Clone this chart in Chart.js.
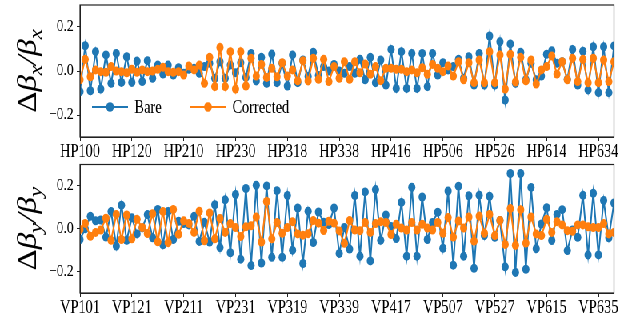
<!DOCTYPE html>
<html><head><meta charset="utf-8">
<script src="https://cdn.jsdelivr.net/npm/chart.js@4.4.1/dist/chart.umd.min.js"></script>
<style>
html,body{margin:0;padding:0;background:#fff;overflow:hidden;width:624px;height:320px;}
#wrap{width:780px;height:320px;transform:scaleX(0.8);transform-origin:0 0;}
.box{position:relative;width:780px;height:160px;}
</style></head><body>
<div id="wrap"><div class="box"><canvas id="c1"></canvas></div><div class="box"><canvas id="c2"></canvas></div></div>
<script>
const hpTickLabels = ['HP100','HP120','HP210','HP230','HP318','HP338','HP416','HP506','HP526','HP614','HP634'];
const vpTickLabels = ['VP101','VP121','VP211','VP231','VP319','VP339','VP417','VP507','VP527','VP615','VP635'];
const yTickValues = [-0.2, 0.0, 0.2];

const bareX = [-0.094,0.115,-0.09,0.088,-0.082,0.073,-0.056,0.08,-0.052,0.065,
 -0.052,0.045,-0.048,0.047,-0.033,0.027,-0.014,0.027,-0.018,0.015,
 -0.01,0.008,0.012,-0.01,0.02,0.035,-0.033,0.042,-0.033,0.027,
 -0.008,0.038,-0.029,0.08,-0.045,0.062,-0.056,0.077,-0.053,0.035,
 -0.068,0.073,-0.053,0.05,-0.025,0.085,-0.02,0.02,0.0,0.03,
 0.0,-0.01,0.02,-0.01,0.053,-0.04,0.062,-0.053,0.05,-0.064,
 0.098,-0.079,0.088,-0.079,0.08,-0.079,0.08,-0.071,0.08,-0.018,
 0.038,0.005,0.02,0.053,-0.033,0.065,-0.064,0.08,-0.064,0.159,
 -0.064,0.133,-0.132,0.123,-0.056,0.085,-0.04,0.035,-0.04,-0.023,
 0.076,0.092,0.035,0.042,-0.038,0.098,-0.064,0.09,-0.086,0.11,
 -0.098,0.11,-0.098,0.114];
const corrX = [-0.04,0.053,-0.026,0.005,-0.003,-0.006,0.02,0.0,-0.003,-0.008,
 0.008,-0.006,0.005,-0.003,0.0,0.008,0.017,-0.003,-0.006,-0.003,
 -0.018,0.023,0.005,0.027,-0.056,0.062,-0.071,0.107,-0.071,0.088,
 -0.082,0.088,-0.068,0.058,-0.023,0.03,-0.029,0.012,-0.026,0.038,
 -0.023,0.005,-0.045,0.047,-0.045,0.058,-0.038,0.053,-0.048,0.02,
 -0.033,0.042,-0.038,0.042,-0.008,0.032,-0.015,0.02,-0.044,0.012,
 0.012,0.008,0.008,-0.003,0.005,-0.008,0.015,-0.015,0.03,0.012,
 -0.003,0.023,-0.023,0.042,-0.04,0.038,-0.053,0.05,-0.053,0.088,
 -0.053,0.073,-0.082,0.076,-0.05,0.062,-0.045,0.05,-0.059,0.005,
 0.02,0.068,-0.014,0.042,-0.04,0.058,-0.048,0.053,-0.053,0.058,
 -0.053,0.05,-0.048,0.042];
const bareY = [-0.05,0.0,0.058,0.037,0.041,-0.039,0.08,-0.081,0.11,-0.054,
 0.051,-0.024,0.004,0.066,-0.042,0.09,-0.075,0.081,-0.05,0.035,
 0.024,0.018,0.058,-0.059,0.03,-0.062,0.112,-0.088,0.135,-0.112,
 0.16,-0.142,0.188,-0.172,0.203,-0.16,0.2,-0.133,0.178,-0.133,
 0.155,-0.1,0.097,-0.162,0.082,-0.064,0.078,0.03,0.02,0.097,
 -0.115,0.006,-0.095,0.155,-0.128,0.172,-0.15,0.183,-0.054,0.064,
 0.01,-0.046,0.123,-0.128,0.194,-0.128,0.148,-0.05,0.029,0.077,
 -0.091,0.176,-0.17,0.199,-0.128,0.154,-0.185,0.157,-0.032,0.152,
 -0.04,0.038,-0.178,0.258,-0.204,0.258,-0.189,0.193,-0.093,0.022,
 0.098,-0.055,0.067,0.089,-0.102,-0.006,-0.04,0.156,-0.122,0.166,
 -0.122,0.132,-0.042,0.12];
const corrY = [-0.003,0.025,-0.035,-0.017,-0.006,0.049,-0.054,0.067,-0.05,0.064,
 -0.047,0.044,0.006,-0.022,0.07,-0.061,0.08,-0.065,0.09,-0.026,
 0.037,0.025,-0.017,0.082,-0.056,0.074,-0.047,0.048,-0.017,0.024,
 0.006,-0.036,0.009,0.014,0.055,-0.062,0.127,-0.047,0.029,-0.021,
 0.006,0.033,-0.024,-0.03,-0.023,0.038,0.026,-0.008,0.035,0.026,
 -0.01,-0.068,0.038,-0.006,-0.009,0.029,-0.017,0.024,0.033,0.029,
 -0.027,0.021,0.003,-0.006,0.029,-0.006,0.021,0.003,-0.006,0.029,
 -0.021,0.052,-0.039,0.036,0.003,0.055,-0.058,0.059,-0.021,0.067,
 -0.032,0.039,-0.073,0.094,-0.077,0.089,-0.067,0.055,-0.024,-0.032,
 0.044,-0.017,0.033,0.018,-0.009,-0.012,0.018,0.018,0.009,0.006,
 0.006,0.024,-0.024,-0.017];

const BLUE = '#1f77b4', ORANGE = '#ff7f0e';
const SERIF = '"Liberation Serif", "Times New Roman", serif';
Chart.defaults.font.family = SERIF;
Chart.defaults.color = '#000';

const toPts = arr => arr.map((v, i) => ({x: i, y: v}));

const frame = {
  id: 'frame',
  afterDraw(chart) {
    const {ctx, chartArea: a} = chart;
    ctx.save();
    ctx.strokeStyle = '#222';
    ctx.lineWidth = 1.2;
    ctx.strokeRect(a.left, a.top, a.right - a.left, a.bottom - a.top);
    ctx.restore();
  }
};

const axisTitle = {
  id: 'axisTitle',
  afterDraw(chart, args, o) {
    const {ctx, chartArea: a} = chart;
    const F = o.size;
    const parts = [
      {t: 'Δ', f: `${F}px ${SERIF}`, dy: 0},
      {t: 'β', f: `italic ${F}px ${SERIF}`, dy: 0},
      {t: o.sub, f: `italic ${Math.round(F * 0.7)}px ${SERIF}`, dy: F * 0.2},
      {t: '/', f: `italic ${F}px ${SERIF}`, dy: 0},
      {t: 'β', f: `italic ${F}px ${SERIF}`, dy: 0},
      {t: o.sub, f: `italic ${Math.round(F * 0.7)}px ${SERIF}`, dy: F * 0.2}
    ];
    ctx.save();
    let total = 0;
    parts.forEach(p => { ctx.font = p.f; p.w = ctx.measureText(p.t).width; total += p.w; });
    ctx.translate(o.x, (a.top + a.bottom) / 2);
    ctx.rotate(-Math.PI / 2);
    ctx.fillStyle = '#000';
    ctx.textBaseline = 'alphabetic';
    let x = -total / 2;
    parts.forEach(p => { ctx.font = p.f; ctx.fillText(p.t, x, F * 0.28 + p.dy); x += p.w; });
    ctx.restore();
  }
};

const inLegend = {
  id: 'inLegend',
  afterDraw(chart, args, o) {
    if (!o.items) return;
    const {ctx, chartArea: a} = chart;
    const y = a.top + o.dy;
    ctx.save();
    o.items.forEach(it => {
      const ds = chart.data.datasets[it.ds];
      const x0 = a.left + it.x;
      ctx.strokeStyle = ds.borderColor;
      ctx.lineWidth = 2.2;
      ctx.beginPath(); ctx.moveTo(x0, y); ctx.lineTo(x0 + 45, y); ctx.stroke();
      ctx.fillStyle = ds.borderColor;
      ctx.beginPath(); ctx.arc(x0 + 22.5, y, 4.8, 0, Math.PI * 2); ctx.fill();
      ctx.fillStyle = '#000';
      ctx.font = `18px ${SERIF}`;
      ctx.textBaseline = 'middle';
      ctx.fillText(ds.label, x0 + 53, y + 1);
    });
    ctx.restore();
  }
};

function makeChart(id, bare, corr, tickLabels, sub, padTop, xHeight, legendOpts) {
  return new Chart(document.getElementById(id), {
    type: 'line',
    data: {
      datasets: [
        {label: 'Corrected', data: toPts(corr), borderColor: ORANGE, backgroundColor: ORANGE,
         borderWidth: 2, pointRadius: 4.5, pointHoverRadius: 4.5, pointBorderWidth: 0, order: 0, clip: 0, tension: 0},
        {label: 'Bare', data: toPts(bare), borderColor: BLUE, backgroundColor: BLUE,
         borderWidth: 2, pointRadius: 4.5, pointHoverRadius: 4.5, pointBorderWidth: 0, order: 1, clip: 0, tension: 0}
      ]
    },
    options: {
      responsive: true, maintainAspectRatio: false, animation: false,
      layout: {padding: {left: 0, right: 12.5, top: padTop, bottom: 0}},
      plugins: {legend: {display: false}, tooltip: {enabled: false},
        axisTitle: {x: 36, size: 33, sub: sub}, inLegend: legendOpts || {}},
      scales: {
        x: {
          type: 'linear', min: 0, max: bare.length - 1,
          afterBuildTicks: s => { s.ticks = tickLabels.map((_, i) => ({value: i * 10})); },
          afterFit: s => { s.height = xHeight; s.paddingLeft = 0; s.paddingRight = 0; },
          ticks: {callback: (v, i) => tickLabels[i], font: {size: 18}, padding: 0, maxRotation: 0, autoSkip: false, color: '#000'},
          grid: {display: true, drawOnChartArea: false, drawTicks: true, tickLength: 4, color: '#222'},
          border: {display: true, color: '#222'}
        },
        y: {
          min: -0.3, max: 0.3,
          afterBuildTicks: s => { s.ticks = yTickValues.map(v => ({value: v})); },
          afterFit: s => { s.width = 100; s.paddingTop = 0; s.paddingBottom = 0; },
          ticks: {callback: v => (v < 0 ? '\u2212' : '') + Math.abs(v).toFixed(1), font: {size: 17}, padding: 4, color: '#000'},
          grid: {display: true, drawOnChartArea: false, drawTicks: true, tickLength: 4, color: '#222'},
          border: {display: true, color: '#222'}
        }
      }
    },
    plugins: [frame, axisTitle, inLegend]
  });
}

makeChart('c1', bareX, corrX, hpTickLabels, 'x', 5, 23,
  {dy: 102, items: [{ds: 1, x: 15}, {ds: 0, x: 137.5}]});
makeChart('c2', bareY, corrY, vpTickLabels, 'y', 3, 27, null);
</script>
</body></html>
